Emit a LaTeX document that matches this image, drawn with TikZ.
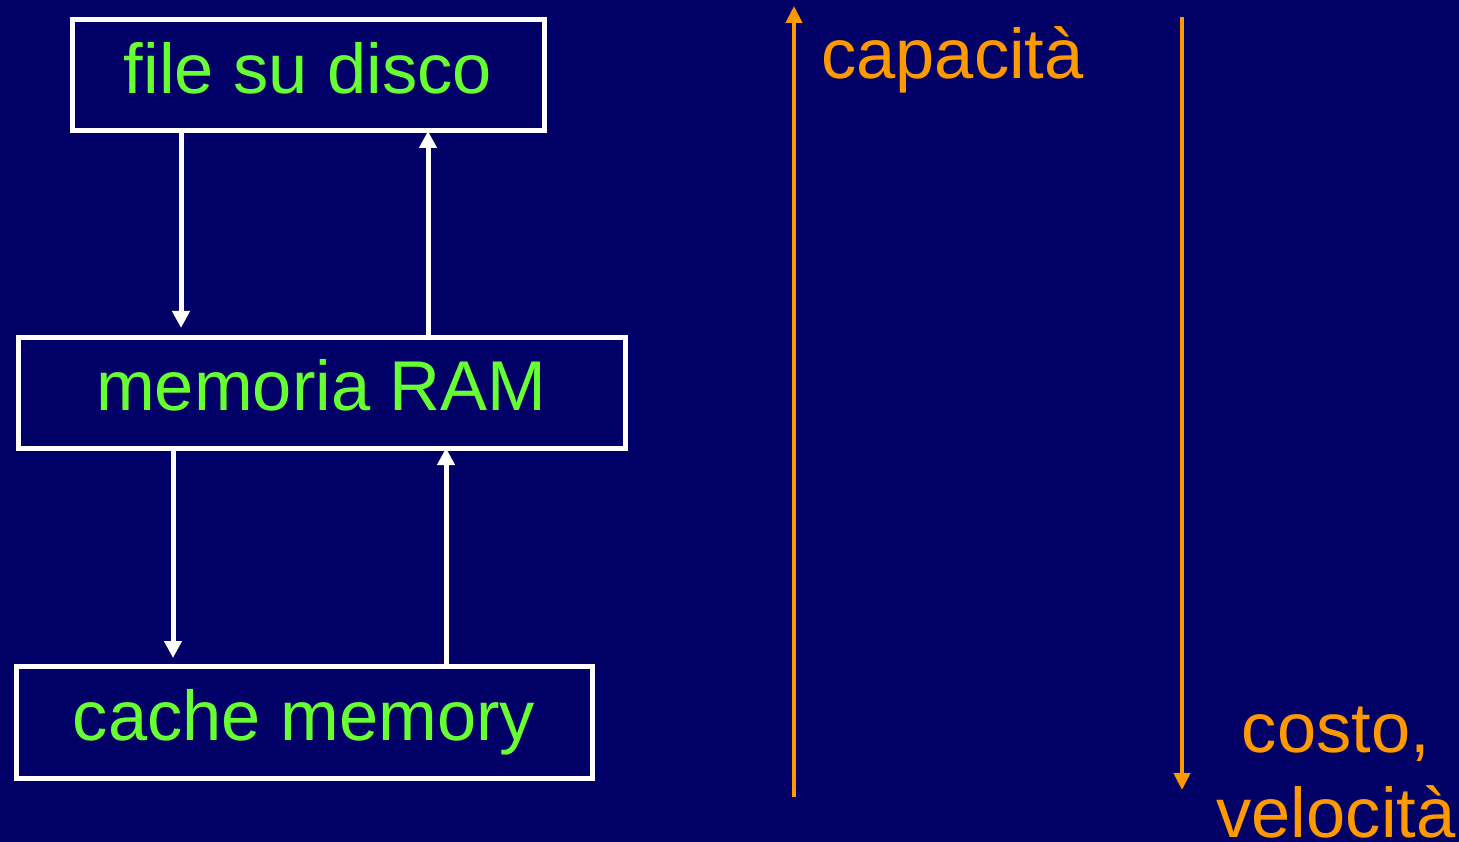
\documentclass[tikz,border=0pt]{standalone}
\usepackage{fontspec}
\setmainfont{Liberation Sans}
\usetikzlibrary{arrows.meta}
\definecolor{navy}{RGB}{0,0,102}
\definecolor{leaf}{RGB}{102,255,51}
\definecolor{amber}{RGB}{255,153,0}
\begin{document}
\begin{tikzpicture}[x=1pt,y=-1pt,
  box/.style={draw=white, line width=5pt, inner sep=0pt, outer sep=0pt,
    text=leaf, font=\fontsize{70.5}{80}\selectfont,
    text height=51pt, text depth=15pt, minimum height=111pt},
  warr/.style={draw=white, line width=5pt,
    -{Triangle[length=17pt,width=17pt]}},
  oarr/.style={draw=amber, line width=4pt,
    -{Triangle[length=17pt,width=16pt]}},
  olabel/.style={text=amber, font=\fontsize{70.5}{85}\selectfont, inner sep=0pt}]
\fill[navy] (0,0) rectangle (1459,842);
\useasboundingbox (0,0) rectangle (1459,842);

% the three levels of the hierarchy
\node[box, minimum width=472pt] (file) at (308,75.5) {file su disco};
\node[box, minimum width=607pt] (ram) at (321.5,392.5) {memoria RAM};
\node[box, minimum width=576pt, minimum height=112pt] (cache) at (304,722) {cache memory};

% transfers between levels
\draw[warr, shorten >=9pt] ([xshift=109pt]file.south west) -- ([xshift=109pt]file.south west |- ram.north);
\draw[warr] ([xshift=410pt]ram.north west) -- ([xshift=410pt]ram.north west |- file.south);
\draw[warr, shorten >=8pt] ([xshift=155pt]ram.south west) -- ([xshift=155pt]ram.south west |- cache.north);
\draw[warr] ([xshift=430pt]cache.north west) -- ([xshift=430pt]cache.north west |- ram.south);

% trend arrows
\coordinate (capLow) at (794,797);
\coordinate (capHigh) at (794,6);
\coordinate (costHigh) at (1182,17);
\coordinate (costLow) at (1182,790);
\draw[oarr] (capLow) -- (capHigh);
\draw[oarr] (costHigh) -- (costLow);

\node[olabel, anchor=base west] (cap) at (821,79) {capacità};
\node[olabel, anchor=base, align=center] (cost) at (1336,837) {costo,\\velocità};
\end{tikzpicture}
\end{document}
